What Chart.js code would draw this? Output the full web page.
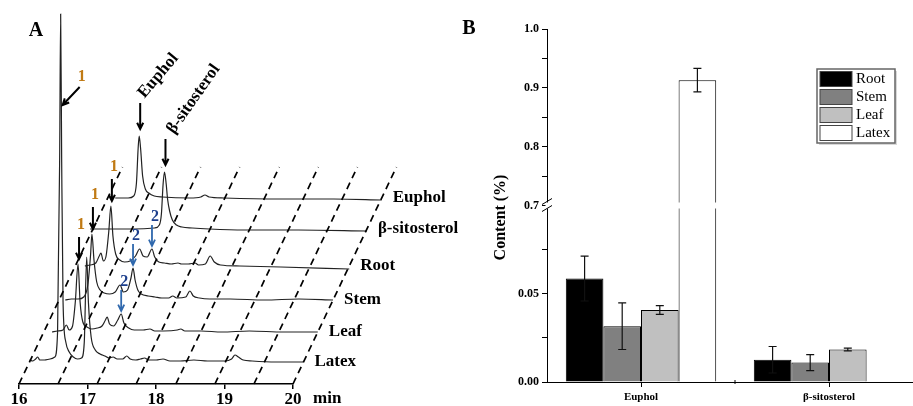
<!DOCTYPE html>
<html>
<head>
<meta charset="utf-8">
<script src="https://cdn.jsdelivr.net/npm/chart.js@4.4.1/dist/chart.umd.min.js"></script>
<style>
    html, body { margin: 0; padding: 0; background: #fff; width: 913px; height: 406px; overflow: hidden; }
    #panelA { position: absolute; left: 0; top: 0; }
    #panelB { position: absolute; left: 460px; top: 0; }
</style>
</head>
<body>
<canvas id="panelA" width="460" height="406"></canvas>
<canvas id="panelB" width="470" height="406"></canvas>
<script>
// === DATA: panel A, chromatograms (time in min, signal above own baseline) ===
const timeTicks = [16, 17, 18, 19, 20];
const depthGridTimes = [16, 16.57, 17.14, 17.71, 18.29, 18.86, 19.43, 20];
const traceNames = ['Latex', 'Leaf', 'Stem', 'Root', 'β-sitosterol', 'Euphol'];

const latexTrace = [
    [16.00, 2], [16.05, 1], [16.09, 3], [16.12, 5], [16.15, 2], [16.22, 2], [16.30, 3], [16.37, 5],
    [16.41, 30], [16.44, 200], [16.455, 348], [16.47, 200], [16.49, 60], [16.53, 20], [16.58, 10],
    [16.64, 5], [16.70, 3], [16.76, 4], [16.80, 20], [16.835, 105], [16.86, 60], [16.90, 25],
    [16.96, 12], [17.03, 8], [17.10, 6], [17.16, 4], [17.22, 5], [17.28, 3], [17.36, 3], [17.42, 6],
    [17.47, 3], [17.55, 2], [17.62, 3], [17.68, 4], [17.74, 2], [17.85, 2], [17.95, 3], [18.05, 1],
    [18.20, 1], [18.40, 2], [18.60, 1], [18.85, 1], [18.95, 3], [19.00, 7], [19.05, 5], [19.12, 2],
    [19.25, 1], [19.60, 0], [20.00, 0]
];
const leafTrace = [
    [16.12, 0], [16.20, 1], [16.28, 2], [16.33, 7], [16.37, 2], [16.42, 6], [16.46, 30], [16.50, 68],
    [16.53, 30], [16.57, 10], [16.63, 5], [16.70, 3], [16.78, 4], [16.85, 6], [16.90, 12], [16.925, 15],
    [16.96, 8], [17.02, 6], [17.08, 12], [17.13, 18], [17.17, 9], [17.24, 4], [17.32, 2], [17.45, 2],
    [17.55, 3], [17.62, 1], [17.75, 1], [17.95, 2], [18.00, 3], [18.06, 1], [18.30, 1], [18.60, 0],
    [19.00, 1], [19.50, 0], [20.00, 0]
];
const stemTrace = [
    [16.09, 0], [16.18, 1], [16.28, 1], [16.36, 3], [16.42, 15], [16.46, 45], [16.48, 66], [16.51, 40],
    [16.55, 18], [16.60, 10], [16.66, 7], [16.74, 6], [16.82, 8], [16.89, 15], [16.94, 8], [17.00, 10],
    [17.05, 22], [17.08, 32], [17.11, 20], [17.15, 10], [17.20, 6], [17.30, 4], [17.40, 3], [17.50, 2],
    [17.60, 2], [17.66, 4], [17.72, 2], [17.85, 3], [17.91, 9], [17.96, 4], [18.05, 2], [18.20, 1],
    [18.50, 1], [19.00, 0], [19.50, 1], [20.00, 0]
];
const rootTrace = [
    [16.14, 0], [16.22, 1], [16.30, 3], [16.35, 10], [16.375, 13], [16.41, 5], [16.45, 10], [16.49, 35],
    [16.52, 60], [16.55, 30], [16.59, 12], [16.65, 6], [16.72, 4], [16.80, 5], [16.88, 10], [16.94, 17],
    [16.99, 10], [17.05, 9], [17.12, 17], [17.16, 9], [17.22, 4], [17.30, 3], [17.40, 2], [17.50, 3],
    [17.55, 2], [17.65, 2], [17.75, 3], [17.80, 1], [17.90, 2], [17.97, 10], [18.03, 4], [18.12, 1],
    [18.40, 0], [19.00, -1], [20.00, -3]
];
const sitosterolTrace = [
    [15.96, 0], [16.30, 0], [16.60, 0], [16.90, 1], [16.97, 4], [17.00, 15], [17.025, 45], [17.045, 57],
    [17.07, 45], [17.09, 30], [17.12, 18], [17.16, 9], [17.22, 4], [17.30, 2], [17.45, 1], [17.70, 0],
    [18.20, -1], [19.00, -1], [20.00, -2]
];
const eupholTrace = [
    [16.11, 0], [16.30, 0], [16.38, 2], [16.42, 15], [16.445, 50], [16.46, 62], [16.48, 50], [16.51, 22],
    [16.55, 9], [16.60, 5], [16.68, 2], [16.80, 1], [17.20, 0], [17.36, 1], [17.42, 3], [17.48, 1],
    [17.70, 0], [18.50, -1], [19.30, -1], [20.00, -2]
];
const traces = [latexTrace, leafTrace, stemTrace, rootTrace, sitosterolTrace, eupholTrace];

// peak markers: trace index, time, height of the marked point
const peakMarks = [
    { trace: 0, t: 16.455, h: 257, text: '1', slanted: true },
    { trace: 1, t: 16.50, h: 68, text: '1' },
    { trace: 2, t: 16.48, h: 66, text: '1' },
    { trace: 3, t: 16.52, h: 60, text: '1' },
    { trace: 1, t: 17.13, h: 18, text: '2' },
    { trace: 2, t: 17.08, h: 32, text: '2' },
    { trace: 3, t: 17.12, h: 17, text: '2' },
];
const compoundMarks = [
    { trace: 5, t: 16.46, h: 62, text: 'Euphol' },
    { trace: 4, t: 17.045, h: 57, text: 'β-sitosterol' },
];

// === DATA: panel B, content (%) ===
const categories = ['Euphol', 'β-sitosterol'];
const seriesNames = ['Root', 'Stem', 'Leaf', 'Latex'];
const rootValues = [0.0586, 0.0126];
const rootErrors = [0.0127, 0.0075];
const stemValues = [0.0316, 0.0110];
const stemErrors = [0.0132, 0.0045];
const leafValues = [0.0408, 0.0184];
const leafErrors = [0.0025, 0.0008];
const latexValues = [0.913, null];
const latexErrors = [0.020, null];
const lowerTicks = [0, 0.025, 0.05, 0.075];
const upperTicks = [0.7, 0.75, 0.8, 0.85, 0.9, 0.95, 1.0];

// === LAYOUT ===
const SERIF = '"Liberation Serif", "Times New Roman", serif';
const DEPTHS = [22, 52, 84, 118, 155, 186];   // how far back each trace sits
const GRID_DEPTH = 217;
const SHEAR = 0.00696;                        // x shift (min) per unit of depth
const LOWER_MAX = 0.1;
const UPPER_MIN = 0.7;
const seriesColors = ['#000000', '#808080', '#c0c0c0', '#ffffff'];

function project(k, t, h) {
    return { x: t + DEPTHS[k] * SHEAR, y: h + DEPTHS[k] };
}

function drawArrow(ctx, x1, y1, x2, y2, color, width) {
    const a = Math.atan2(y2 - y1, x2 - x1);
    const hl = 7;
    ctx.strokeStyle = color;
    ctx.lineWidth = width;
    ctx.beginPath();
    ctx.moveTo(x1, y1);
    ctx.lineTo(x2, y2);
    ctx.moveTo(x2 - hl * Math.cos(a - 0.45), y2 - hl * Math.sin(a - 0.45));
    ctx.lineTo(x2, y2);
    ctx.lineTo(x2 - hl * Math.cos(a + 0.45), y2 - hl * Math.sin(a + 0.45));
    ctx.stroke();
}

// === PANEL A ===
const chromLabels = {
    id: 'chromLabels',
    afterDatasetsDraw(chart) {
        const { ctx } = chart;
        const xs = chart.scales.x, ys = chart.scales.y;
        const at = (k, t, h) => {
            const p = project(k, t, h);
            return { x: xs.getPixelForValue(p.x), y: ys.getPixelForValue(p.y) };
        };
        ctx.save();
        ctx.textAlign = 'left';
        ctx.textBaseline = 'middle';

        // trace names at the right end of each trace
        ctx.font = `bold 17px ${SERIF}`;
        ctx.fillStyle = '#000';
        traces.forEach((tr, k) => {
            const last = tr[tr.length - 1];
            const p = at(k, last[0], 0);
            ctx.fillText(traceNames[k], p.x + 11, p.y);
        });
        ctx.fillText('min', xs.getPixelForValue(20) + 20, xs.bottom - 7);

        // numbered peaks
        peakMarks.forEach(m => {
            const p = at(m.trace, m.t, m.h);
            const blue = m.text === '2';
            const arrowColor = blue ? '#2f68ad' : '#000';
            ctx.font = `bold 16px ${SERIF}`;
            ctx.fillStyle = blue ? '#1d3f8c' : '#c07a14';
            ctx.textAlign = 'center';
            if (m.slanted) {
                drawArrow(ctx, p.x + 19, p.y - 18, p.x + 2, p.y, arrowColor, 2);
                ctx.fillText(m.text, p.x + 21, p.y - 28);
            } else if (blue) {
                drawArrow(ctx, p.x, p.y - 24, p.x, p.y - 3, arrowColor, 1.8);
                ctx.fillText(m.text, p.x + 3, p.y - 32);
            } else {
                drawArrow(ctx, p.x + 1, p.y - 27, p.x + 1, p.y - 5, arrowColor, 2);
                ctx.fillText(m.text, p.x + 3, p.y - 39);
            }
        });

        // standards
        compoundMarks.forEach((m, i) => {
            const p = at(m.trace, m.t, m.h);
            drawArrow(ctx, p.x + 1, p.y - 33, p.x + 1, p.y - 7, '#000', 2);
            ctx.save();
            ctx.translate(p.x + (i === 0 ? 2 : 6), p.y - 40);
            ctx.rotate(i === 0 ? -0.87 : -0.96);
            ctx.font = `bold 17px ${SERIF}`;
            ctx.fillStyle = '#000';
            ctx.textAlign = 'left';
            ctx.fillText(m.text, 0, 0);
            ctx.restore();
        });

        ctx.font = `bold 20px ${SERIF}`;
        ctx.fillStyle = '#000';
        ctx.textAlign = 'center';
        ctx.fillText('A', 36, 31);
        ctx.restore();
    }
};

const gridDatasets = depthGridTimes.map(t => ({
    data: [{ x: t, y: 0 }, { x: t + GRID_DEPTH * SHEAR, y: GRID_DEPTH }],
    borderColor: '#000',
    borderWidth: 1.7,
    borderDash: [7, 5],
    pointRadius: 0,
    clip: false,
}));

const traceDatasets = traces.map((tr, k) => ({
    label: traceNames[k],
    data: tr.map(([t, h]) => project(k, t, h)),
    borderColor: '#222',
    borderWidth: 1.2,
    pointRadius: 0,
    cubicInterpolationMode: 'monotone',
    clip: false,
}));

new Chart(document.getElementById('panelA'), {
    type: 'line',
    data: { datasets: [...gridDatasets, ...traceDatasets] },
    options: {
        responsive: false,
        animation: false,
        devicePixelRatio: 1,
        layout: { padding: { left: 19, right: 167, top: 14, bottom: 0 } },
        elements: { line: { capBezierPoints: false } },
        plugins: { legend: { display: false }, tooltip: { enabled: false } },
        scales: {
            x: {
                type: 'linear',
                bounds: 'data',
                afterDataLimits: s => { s.min = 16; s.max = 20; },
                afterBuildTicks: s => { s.ticks = timeTicks.map(v => ({ value: v })); },
                afterFit: s => { s.height = 22; },
                grid: { drawOnChartArea: false, tickLength: 5, color: '#000', lineWidth: 1.5 },
                border: { color: '#000', width: 1.5 },
                ticks: {
                    color: '#000',
                    padding: 0,
                    maxRotation: 0,
                    font: { family: SERIF, size: 17, weight: 'bold' },
                },
            },
            y: {
                type: 'linear',
                display: false,
                bounds: 'data',
                afterDataLimits: s => { s.min = 0; s.max = 370; },
            },
        },
    },
    plugins: [chromLabels],
});

// === PANEL B ===
const errorSets = [
    { datasetIndex: 0, values: rootValues, errors: rootErrors },
    { datasetIndex: 1, values: stemValues, errors: stemErrors },
    { datasetIndex: 2, values: leafValues, errors: leafErrors },
    { datasetIndex: 4, values: latexValues, errors: latexErrors },
];

const errorBars = {
    id: 'errorBars',
    afterDatasetsDraw(chart) {
        const { ctx } = chart;
        ctx.save();
        ctx.strokeStyle = '#111';
        ctx.lineWidth = 1.2;
        errorSets.forEach(({ datasetIndex, values, errors }) => {
            const meta = chart.getDatasetMeta(datasetIndex);
            const scale = chart.scales[meta.yAxisID];
            meta.data.forEach((bar, i) => {
                if (values[i] == null || errors[i] == null) return;
                const y1 = scale.getPixelForValue(values[i] + errors[i]);
                const y2 = scale.getPixelForValue(values[i] - errors[i]);
                const x = bar.x;
                ctx.beginPath();
                ctx.moveTo(x, y1); ctx.lineTo(x, y2);
                ctx.moveTo(x - 4, y1); ctx.lineTo(x + 4, y1);
                ctx.moveTo(x - 4, y2); ctx.lineTo(x + 4, y2);
                ctx.stroke();
            });
        });
        ctx.restore();
    }
};

const axisBreakAndLegend = {
    id: 'axisBreakAndLegend',
    afterDraw(chart) {
        const { ctx, chartArea } = chart;
        const b = chart.scales.y.top;
        const L = chartArea.left;
        ctx.save();
        // gap at the break
        ctx.fillStyle = '#fff';
        ctx.fillRect(L - 1.5, b - 3, chartArea.right - L + 2, 6);
        ctx.strokeStyle = '#000';
        ctx.lineWidth = 1;
        ctx.beginPath();
        ctx.moveTo(L - 5, b - 1); ctx.lineTo(L + 5, b - 7);
        ctx.moveTo(L - 5, b + 6); ctx.lineTo(L + 5, b);
        ctx.stroke();

        // minor tick between the two groups
        const xs = chart.scales.x;
        const mid = (xs.getPixelForValue(0) + xs.getPixelForValue(1)) / 2;
        ctx.beginPath();
        ctx.moveTo(mid, chartArea.bottom - 2); ctx.lineTo(mid, chartArea.bottom + 2);
        ctx.stroke();

        // y title
        ctx.save();
        ctx.translate(L - 46, (chartArea.top + chartArea.bottom) / 2 + 12);
        ctx.rotate(-Math.PI / 2);
        ctx.font = `bold 16px ${SERIF}`;
        ctx.fillStyle = '#000';
        ctx.textAlign = 'center';
        ctx.textBaseline = 'middle';
        ctx.fillText('Content (%)', 0, 0);
        ctx.restore();

        // legend box
        const lx = L + 270, ly = chartArea.top + 40;
        ctx.fillStyle = '#d8d8d8';
        ctx.fillRect(lx + 2, ly + 2, 78, 74);
        ctx.fillStyle = '#fff';
        ctx.fillRect(lx, ly, 78, 74);
        ctx.strokeStyle = '#666';
        ctx.lineWidth = 1.5;
        ctx.strokeRect(lx, ly, 78, 74);
        ctx.font = `15px ${SERIF}`;
        ctx.textAlign = 'left';
        ctx.textBaseline = 'middle';
        seriesNames.forEach((name, i) => {
            const ry = ly + 2.5 + i * 18;
            ctx.fillStyle = seriesColors[i];
            ctx.fillRect(lx + 3, ry, 32, 15);
            ctx.strokeStyle = '#444';
            ctx.lineWidth = 1;
            ctx.strokeRect(lx + 3, ry, 32, 15);
            ctx.fillStyle = '#000';
            ctx.fillText(name, lx + 39, ry + 8);
        });

        ctx.font = `bold 20px ${SERIF}`;
        ctx.textAlign = 'center';
        ctx.fillText('B', 9, 29);
        ctx.restore();
    }
};

const tickFont = { family: SERIF, size: 12, weight: 'bold' };
const axisGrid = { drawOnChartArea: false, tickLength: 5, color: '#000' };

function barSet(label, values, color) {
    return {
        label,
        data: values,
        yAxisID: 'y',
        backgroundColor: color,
        borderColor: '#000',
        borderWidth: 1,
        borderSkipped: 'start',
    };
}

new Chart(document.getElementById('panelB'), {
    type: 'bar',
    data: {
        labels: categories,
        datasets: [
            barSet('Root', rootValues, seriesColors[0]),
            barSet('Stem', stemValues, seriesColors[1]),
            barSet('Leaf', leafValues, seriesColors[2]),
            {
                label: 'Latex',
                data: latexValues.map(v => v == null ? null : [0, Math.min(v, LOWER_MAX)]),
                yAxisID: 'y',
                stack: 'latex',
                backgroundColor: seriesColors[3],
                borderColor: '#000',
                borderWidth: { left: 1, right: 1, top: 0, bottom: 0 },
                borderSkipped: false,
            },
            {
                label: 'Latex',
                data: latexValues.map(v => v != null && v > UPPER_MIN ? [UPPER_MIN, v] : null),
                yAxisID: 'yHigh',
                stack: 'latex',
                backgroundColor: seriesColors[3],
                borderColor: '#000',
                borderWidth: { left: 1, right: 1, top: 1, bottom: 0 },
                borderSkipped: false,
            },
        ],
    },
    options: {
        responsive: false,
        animation: false,
        devicePixelRatio: 1,
        layout: { padding: { left: 27, right: 7, top: 29, bottom: 0 } },
        datasets: { bar: { categoryPercentage: 0.8, barPercentage: 1 } },
        plugins: { legend: { display: false }, tooltip: { enabled: false } },
        scales: {
            x: {
                type: 'category',
                offset: true,
                afterFit: s => { s.height = 24; },
                grid: { offset: false, drawOnChartArea: false, tickLength: 5, color: '#000' },
                border: { color: '#000' },
                ticks: { color: '#000', font: { family: SERIF, size: 11, weight: 'bold' }, maxRotation: 0, padding: 4 },
            },
            y: {
                type: 'linear',
                position: 'left',
                stack: 'content',
                stackWeight: 1,
                weight: 1,
                stacked: false,
                min: 0,
                max: LOWER_MAX,
                afterBuildTicks: s => { s.ticks = lowerTicks.map(v => ({ value: v })); },
                afterFit: s => { s.width = 60; },
                grid: axisGrid,
                border: { color: '#000' },
                ticks: {
                    color: '#000',
                    font: tickFont,
                    padding: 3,
                    autoSkip: false,
                    callback: v => (Math.abs(v) < 1e-9 || Math.abs(v - 0.05) < 1e-9) ? v.toFixed(2) : '',
                },
            },
            yHigh: {
                type: 'linear',
                position: 'left',
                stack: 'content',
                stackWeight: 1,
                weight: 2,
                stacked: false,
                min: UPPER_MIN,
                max: 1.0,
                afterBuildTicks: s => { s.ticks = upperTicks.map(v => ({ value: v })); },
                afterFit: s => { s.width = 60; },
                grid: axisGrid,
                border: { color: '#000' },
                ticks: {
                    color: '#000',
                    font: tickFont,
                    padding: 3,
                    autoSkip: false,
                    callback: v => Math.abs(v * 10 - Math.round(v * 10)) < 1e-6 ? v.toFixed(1) : '',
                },
            },
        },
    },
    plugins: [errorBars, axisBreakAndLegend],
});
</script>
</body>
</html>
